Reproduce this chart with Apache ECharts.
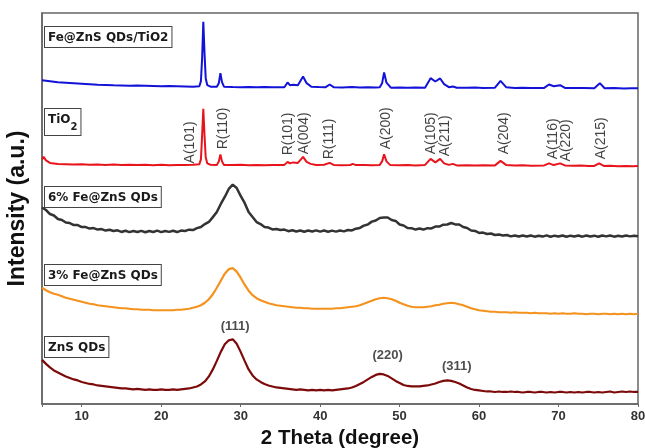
<!DOCTYPE html>
<html>
<head>
<meta charset="utf-8">
<script src="https://cdn.jsdelivr.net/npm/echarts@6/dist/echarts.min.js"></script>
<style>
  html, body { margin: 0; padding: 0; background: #fff; }
  #chart { width: 645px; height: 448px; }
</style>
</head>
<body>
<div id="chart"></div>
<script>
// XRD patterns, stacked with vertical offsets (arbitrary intensity units)

// broad ZnS-type patterns are sampled every 0.5 degree from 5 to 80
const scanStart = 5;
const scanStep = 0.5;

const fe6ZnS = [
  196, 193.5, 189.5, 188, 184.5, 183.5, 181, 180.5, 178.5, 178.5,
  176.5, 176.5, 175, 175.5, 174, 174.5, 173, 173.8, 172.5, 173.2,
  171.6, 172.8, 171.4, 172.6, 171.5, 172.7, 171.3, 172.6, 171.6, 172.9,
  171.4, 172.5, 171.7, 172.8, 171.5, 173, 172.6, 173.9, 173.5, 175.4,
  176.6, 179.5, 181.6, 186.4, 191.5, 199.5, 206.5, 214.5, 218.8, 215.5,
  207.5, 200.5, 191.5, 186.5, 181.5, 179.5, 176.6, 176, 174.1, 174.6,
  173.5, 174, 172.4, 173.3, 172, 173.1, 171.8, 173, 172, 173.2,
  171.9, 173, 171.8, 172.9, 171.9, 173.1, 172.2, 173.5, 173.1, 174.9,
  175.6, 177.9, 179, 181.9, 183, 185.6, 186, 186, 183.5, 182.6,
  179, 178, 175.6, 175.4, 174, 175, 174, 175.4, 175.1, 177,
  177, 178.9, 179, 180.5, 179.1, 179, 176.6, 175.5, 173.1, 172.6,
  170.6, 171, 169.6, 170.1, 168.6, 169, 168.1, 168.6, 167.2, 168.1,
  167, 168, 167.1, 168.1, 166.9, 167.9, 167, 168.2, 166.8, 167.9,
  167, 168.1, 166.8, 167.9, 167.1, 168, 166.9, 168.1, 167, 167.9,
  166.8, 168, 167.2, 168.1, 166.9, 167.8, 167, 168.1, 167.2, 167.9,
  167.3
];

const fe3ZnS = [
  116, 113.5, 111.5, 110, 109, 107.5, 106, 105, 104, 103,
  102, 101, 100, 99.5, 98.5, 98, 97.5, 97, 96.5, 96,
  95.5, 95.5, 95, 94.5, 94.5, 94, 94, 94, 93.5, 93.5,
  93.5, 93.5, 93.5, 93.5, 94, 94, 94.5, 95, 96, 97,
  98.5, 101, 104.5, 109.5, 116, 123, 130, 134.5, 135.5, 132,
  126, 119, 113, 108.5, 105.5, 103.5, 102, 100.5, 99.5, 98.5,
  98, 97.5, 97, 96.5, 96, 96, 95.5, 95.5, 95, 95,
  95, 95, 95, 95, 95.5, 95.5, 96, 96.5, 97, 97.5,
  98.5, 100, 101.5, 103, 104.5, 105.5, 106, 105.5, 104.5, 103,
  101, 99.5, 98, 97, 96.5, 96.5, 96.5, 97, 97.5, 98.5,
  99, 100, 100.5, 101, 100.5, 99.5, 98.5, 97, 95.5, 94.5,
  93.5, 93, 92.5, 92, 92, 91.5, 91.5, 91.5, 91, 91.5,
  91, 91, 91, 90.5, 91, 90.5, 90.5, 90.5, 90, 90.5,
  90, 90.5, 90, 90, 90.5, 90, 90, 89.5, 90, 90,
  89.5, 90, 90, 89.5, 90, 89.5, 90, 89.5, 90, 89.5,
  90
];

const znsQDs = [
  44, 40, 36.5, 33.5, 31.5, 29.5, 27.5, 26, 24.5, 23.5,
  22, 21, 20, 19.5, 18.5, 18, 17.5, 17, 16.5, 16,
  15.5, 15.5, 15, 14.5, 15, 14.5, 14, 14.5, 14, 14,
  14.5, 14, 14, 14.5, 14, 14.5, 15, 15.5, 16.5, 17.5,
  19.5, 22.5, 27.5, 34.5, 43, 52, 59.5, 63.5, 64.5, 60,
  52, 43, 34.5, 28.5, 24.5, 22, 20, 18.5, 17.5, 16.5,
  16, 15.5, 15, 14.5, 14, 14.5, 14, 13.5, 14, 13.5,
  14, 13.5, 14, 13.5, 14, 14.5, 15, 15.5, 16.5, 18,
  20, 22, 24.5, 27, 29, 30, 29.5, 28, 25.5, 23,
  21, 19, 18, 17.5, 17.5, 17.5, 18, 18.5, 19.5, 20.5,
  22, 23, 23.5, 23, 22, 20.5, 18.5, 16.5, 15, 14,
  13.5, 13, 12.5, 12.5, 12, 12.5, 12, 12, 12.5, 12,
  12, 11.5, 12, 12, 11.5, 12, 12, 11.5, 12, 11.5,
  12, 12, 11.5, 12, 11.5, 12, 11.5, 12, 12, 11.5,
  12, 11.5, 12, 12.5, 11.5, 12, 12.5, 12, 12.5, 12,
  12
];

// sharp anatase / rutile patterns: [2theta, intensity]
const tio2 = [
  [5, 244], [5.2, 246.5], [5.5, 243], [6, 240.5], [6.5, 240], [7, 239.5], [8, 239.2],
  [9, 238.8], [10, 239.2], [11, 238.6], [12, 238.8], [13, 238.4], [14, 238.8], [15, 238.4],
  [16, 238.7], [17, 238.3], [18, 238.6], [19, 238.2], [20, 238.6], [21, 238.2], [22, 238.5],
  [23, 238.3], [24, 238.6], [24.8, 239.2], [25.0, 244], [25.15, 268], [25.3, 294.5],
  [25.45, 268], [25.6, 246], [25.8, 240], [26.2, 238.6], [27.0, 238.5], [27.25, 242],
  [27.45, 249], [27.65, 242], [27.9, 238.5], [29, 238.3], [30, 238.6], [31, 238.2],
  [32, 238.5], [33, 238.2], [34, 238.5], [35.5, 238.5], [35.9, 241.5], [36.2, 240],
  [36.6, 241], [37.2, 240.5], [37.85, 246.5], [38.3, 241.5], [38.8, 239.5], [39.5, 238.3],
  [40.5, 238.6], [41.2, 240.5], [41.7, 238.5], [42.7, 238.2], [43.8, 238.4], [44.1, 239.5],
  [44.5, 238.3], [45.5, 238.5], [46.5, 238.1], [47.5, 238.5], [47.8, 242], [48.05, 249],
  [48.35, 242], [48.8, 238.5], [50, 238.1], [51, 238.4], [52, 238], [53.2, 238.5],
  [53.9, 244.5], [54.5, 241], [55.1, 244.5], [55.6, 240], [56.2, 238.5], [56.7, 239.5],
  [57.2, 238], [58.5, 238.2], [59.5, 237.8], [60.5, 238.1], [62, 238], [62.7, 242.5],
  [63.4, 238.5], [64.5, 237.8], [65.5, 238.1], [66.5, 237.7], [68.2, 238], [68.8, 240],
  [69.4, 238.3], [70.2, 240], [70.8, 238], [71.8, 237.6], [72.8, 237.9], [73.8, 237.5],
  [74.5, 237.5], [75.1, 240], [75.7, 237.5], [76.5, 237.6], [77.5, 237.2], [78.5, 237.5],
  [79.3, 237.1], [80, 237.3]
];

const feZnSTiO2 = [
  [5, 323], [5.5, 322.5], [6, 322], [7, 321], [8, 320.5], [9, 320], [10, 319.5],
  [11, 319], [12, 318.5], [13, 318.3], [14, 318], [15, 317.8], [16, 317.5], [17, 317.6],
  [18, 317.4], [19, 317.2], [20, 317], [21, 317.1], [22, 317], [23, 316.8], [24, 316.5],
  [24.8, 317], [25.0, 322], [25.15, 345], [25.3, 381.3], [25.45, 350], [25.6, 325],
  [25.8, 318], [26.2, 316.5], [27.0, 316.5], [27.25, 320], [27.45, 330], [27.65, 321],
  [27.9, 316.5], [29, 316.2], [30, 316], [31, 316.2], [32, 315.9], [33, 316.1], [34, 315.9],
  [35.5, 316], [35.9, 320.7], [36.2, 318], [36.6, 318.5], [37.2, 318], [37.85, 326.7],
  [38.3, 320], [38.9, 316.5], [39.8, 316.1], [40.7, 316], [41.2, 318.7], [41.7, 316],
  [42.8, 315.8], [44, 316.1], [45, 315.8], [46, 316], [47, 315.8], [47.5, 316], [47.8, 320],
  [48.05, 330.7], [48.35, 320.5], [48.9, 315.5], [50, 315.7], [51, 315.4], [52, 315.6],
  [53.2, 315.5], [53.9, 325], [54.5, 321.7], [55.1, 324.7], [55.6, 319], [56.2, 316],
  [56.7, 316.7], [57.2, 315.5], [58.5, 315.4], [59.5, 315.6], [60.5, 315.3], [62, 315.5],
  [62.7, 322.3], [63.4, 316], [64.5, 315.3], [65.5, 315.5], [66.5, 315.2], [68.2, 315.3],
  [68.8, 318.7], [69.4, 317], [70.2, 318], [70.8, 315.3], [72, 315.1], [73.2, 315.3],
  [74.5, 315], [75.2, 320], [75.8, 315], [77, 315.1], [78.2, 314.8], [79.2, 315], [80, 315]
];

// phase reflections marked on the TiO2 pattern
const phaseNames = ['A(101)', 'R(110)', 'R(101)', 'A(004)', 'R(111)', 'A(200)',
                    'A(105)', 'A(211)', 'A(204)', 'A(116)', 'A(220)', 'A(215)'];
const phaseTheta = [23.6, 27.8, 36.0, 38.0, 41.1, 48.3, 54.0, 55.7, 63.2, 69.3, 71.0, 75.4];
const phaseBase  = [240, 254, 248, 249, 244, 254, 249, 247, 249, 244, 242, 244];

// zinc blende reflections marked on the ZnS pattern
const hklNames = ['(111)', '(220)', '(311)'];
const hklTheta = [29.3, 48.5, 57.2];
const hklLevel = [77, 48, 37];

const xTicks = [10, 20, 30, 40, 50, 60, 70, 80];

const pairs = (vals) => vals.map((v, i) => [scanStart + i * scanStep, v]);

const FONT = '"Liberation Sans", Arial, sans-serif';
const TAG_FONT = '"DejaVu Sans", Verdana, sans-serif';

function trace(name, data, color, width) {
  return {
    name, type: 'line', data, showSymbol: false, silent: true,
    lineStyle: { color, width }, z: 3
  };
}

function tag(text, left, top, rich) {
  return {
    type: 'text', left, top, z: 10,
    style: {
      text, rich,
      font: 'bold 12px ' + TAG_FONT,
      fill: '#1a1a1a',
      backgroundColor: '#fff',
      borderColor: '#444',
      borderWidth: 1,
      padding: [5, 3, 3, 3]
    }
  };
}

const chart = echarts.init(document.getElementById('chart'), null, { renderer: 'canvas' });

chart.setOption({
  animation: false,
  backgroundColor: '#fff',
  grid: {
    left: 42, right: 7, top: 13, bottom: 44,
    outerBoundsMode: 'none', containLabel: false,
    show: true, borderColor: '#666', borderWidth: 1.5, backgroundColor: 'transparent'
  },
  xAxis: {
    type: 'value', min: 5, max: 80, splitNumber: 8,
    name: '2 Theta (degree)', nameLocation: 'middle', nameGap: 23,
    nameTextStyle: { fontFamily: FONT, fontSize: 20.5, fontWeight: 'bold', color: '#111' },
    axisLine: { show: true, lineStyle: { color: '#666', width: 1.5 } },
    axisTick: { show: true, length: 3, lineStyle: { color: '#666' } },
    splitLine: { show: false },
    axisLabel: {
      fontFamily: FONT, fontSize: 13, fontWeight: 'bold', color: '#333', margin: 6,
      formatter: (v) => (xTicks.indexOf(v) >= 0 ? String(v) : '')
    }
  },
  yAxis: {
    type: 'value', min: 0, max: 390,
    name: 'Intensity (a.u.)', nameLocation: 'middle', nameGap: 13, nameRotate: 90,
    nameTextStyle: { fontFamily: FONT, fontSize: 23, fontWeight: 'bold', color: '#111' },
    axisLine: { show: true, lineStyle: { color: '#666', width: 1.5 } },
    axisTick: { show: false }, axisLabel: { show: false }, splitLine: { show: false }
  },
  series: [
    trace('ZnS QDs', pairs(znsQDs), '#7d0a0a', 2.2),
    trace('3% Fe@ZnS QDs', pairs(fe3ZnS), '#f5921e', 2.2),
    trace('6% Fe@ZnS QDs', pairs(fe6ZnS), '#333333', 2.5),
    trace('TiO2', tio2, '#e8141c', 2),
    trace('Fe@ZnS QDs/TiO2', feZnSTiO2, '#1212d8', 2),
    {
      name: 'phases', type: 'scatter', symbolSize: 0, silent: true, z: 5,
      data: phaseNames.map((n, i) => ({ name: n, value: [phaseTheta[i], phaseBase[i]] })),
      label: {
        show: true, position: [0, 0], rotate: 90, align: 'left', verticalAlign: 'middle',
        formatter: (p) => p.name,
        fontFamily: FONT, fontSize: 14, color: '#111'
      }
    },
    {
      name: 'hkl', type: 'scatter', symbolSize: 0, silent: true, z: 5,
      data: hklNames.map((n, i) => ({ name: n, value: [hklTheta[i], hklLevel[i]] })),
      label: {
        show: true, position: [0, 0], align: 'center', verticalAlign: 'middle',
        formatter: (p) => p.name,
        fontFamily: FONT, fontSize: 13, fontWeight: 'bold', color: '#222'
      }
    }
  ],
  graphic: [
    tag('Fe@ZnS QDs/TiO2', 44, 26),
    tag('{a|TiO}{s|2}', 44, 108, {
      a: { font: 'bold 12px ' + TAG_FONT, fill: '#1a1a1a', padding: [0, 0, 6, 0] },
      s: { font: 'bold 10px ' + TAG_FONT, fill: '#1a1a1a', verticalAlign: 'bottom' }
    }),
    tag('6% Fe@ZnS QDs', 44, 186),
    tag('3% Fe@ZnS QDs', 44, 264),
    tag('ZnS QDs', 44, 336)
  ]
});
</script>
</body>
</html>
